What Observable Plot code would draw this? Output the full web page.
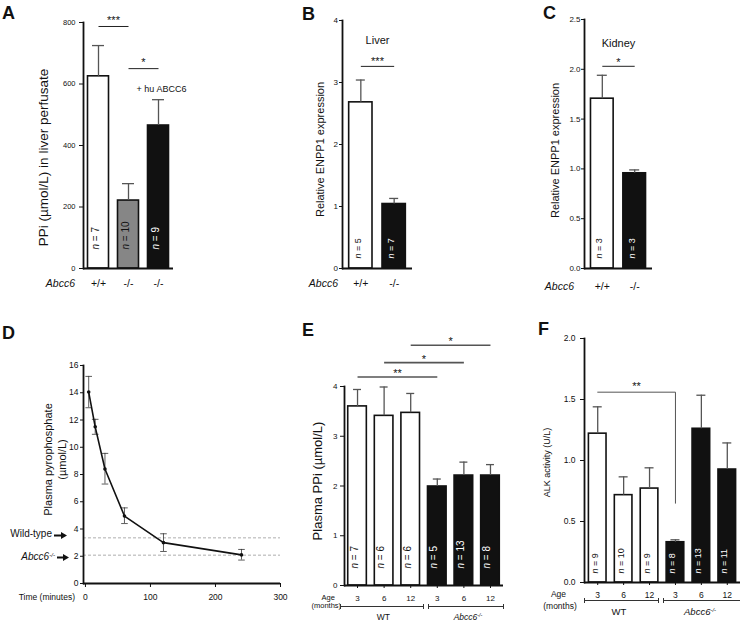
<!DOCTYPE html>
<html><head><meta charset="utf-8">
<script src="https://cdn.jsdelivr.net/npm/d3@7"></script>
<script src="https://cdn.jsdelivr.net/npm/@observablehq/plot@0.6"></script>
<style>
html,body{margin:0;padding:0;background:#fff}
#fig{position:relative;width:740px;height:623px;overflow:hidden;font-family:"Liberation Sans",Arial,sans-serif;color:#111}
.pos{position:absolute}
.lab{position:absolute;white-space:nowrap;line-height:1}
.lab sup{font-size:0.62em;vertical-align:0.5em;line-height:0}
.brk{position:absolute;height:0;border-top:1px solid #333}
.brk::before,.brk::after{content:"";position:absolute;top:-3px;height:5px;border-left:1px solid #333}
.brk::before{left:0}.brk::after{right:-1px}
</style></head><body><div id="fig"></div>
<script>
// ---------- data ----------
// A: PPi in liver perfusate
const aKeys = ["wt", "ko", "koHu"];
const aGenotype = ["+/+", "-/-", "-/-"];
const aPPi = [625, 221, 465];
const aPPiErr = [725, 276, 549];
const aN = [7, 10, 9];
// B: liver ENPP1
const bKeys = ["wt", "ko"];
const bGenotype = ["+/+", "-/-"];
const bENPP1 = [2.68, 1.04];
const bENPP1Err = [3.04, 1.13];
const bN = [5, 7];
// C: kidney ENPP1
const cKeys = ["wt", "ko"];
const cGenotype = ["+/+", "-/-"];
const cENPP1 = [1.705, 0.956];
const cENPP1Err = [1.94, 0.99];
const cN = [3, 3];
// D: plasma pyrophosphate time course
const dTime = [5, 15, 30, 60, 120, 240];
const dPPi = [14.05, 11.5, 8.4, 4.95, 3.0, 2.1];
const dLow = [12.9, 10.95, 7.3, 4.4, 2.35, 1.72];
const dHigh = [15.2, 12.05, 9.55, 5.55, 3.65, 2.5];
const dRefLevels = [3.35, 2.08];
const dYTicks = [0, 2, 4, 6, 8, 10, 12, 14, 16];
const dXTicks = [0, 100, 200, 300];
// E: plasma PPi by age
const eKeys = ["wt3", "wt6", "wt12", "ko3", "ko6", "ko12"];
const eAge = ["3", "6", "12", "3", "6", "12"];
const eGroup = ["WT", "WT", "WT", "Abcc6", "Abcc6", "Abcc6"];
const ePPi = [3.60, 3.41, 3.47, 1.99, 2.21, 2.21];
const ePPiErr = [3.94, 3.99, 3.86, 2.14, 2.48, 2.43];
const eN = [7, 6, 6, 5, 13, 8];
// F: ALK activity by age
const fKeys = ["wt3", "wt6", "wt12", "ko3", "ko6", "ko12"];
const fAge = ["3", "6", "12", "3", "6", "12"];
const fGroup = ["WT", "WT", "WT", "Abcc6", "Abcc6", "Abcc6"];
const fALK = [1.22, 0.716, 0.77, 0.33, 1.26, 0.926];
const fALKErr = [1.44, 0.866, 0.94, 0.35, 1.535, 1.144];
const fN = [9, 10, 9, 8, 13, 11];

// ---------- helpers ----------
const fig = document.getElementById("fig");
const NS = "http://www.w3.org/2000/svg";
const FONT = "'Liberation Sans', Arial, sans-serif";

function place(node, left, top) {
  const d = document.createElement("div");
  d.className = "pos"; d.style.left = left + "px"; d.style.top = top + "px";
  d.append(node); fig.append(d);
}
function label(html, x, y, {size = 10, anchor = "middle", italic = false, bold = false} = {}) {
  const d = document.createElement("div");
  d.className = "lab"; d.innerHTML = html;
  d.style.left = x + "px"; d.style.top = y + "px"; d.style.fontSize = size + "px";
  const tx = anchor === "middle" ? "-50%" : anchor === "end" ? "-100%" : "0";
  d.style.transform = `translate(${tx},-50%)`;
  if (italic) d.style.fontStyle = "italic";
  if (bold) d.style.fontWeight = "bold";
  fig.append(d);
}
function bracket(x1, x2, y) {
  const d = document.createElement("div");
  d.className = "brk"; d.style.left = x1 + "px"; d.style.top = y + "px"; d.style.width = (x2 - x1) + "px";
  fig.append(d);
}
function arrow(x1, x2, y) {
  const w = x2 - x1;
  const s = document.createElementNS(NS, "svg");
  s.setAttribute("width", w); s.setAttribute("height", 7);
  s.style.position = "absolute"; s.style.left = x1 + "px"; s.style.top = (y - 3.5) + "px";
  s.innerHTML = `<path d="M0,3.5H${w - 5}" stroke="#111" stroke-width="2"/><path d="M${w - 6},0L${w},3.5L${w - 6},7Z" fill="#111"/>`;
  fig.append(s);
}
function rich(svg) {
  svg.querySelectorAll("text").forEach(t => {
    if (t.querySelector("tspan")) return;
    const s = t.textContent;
    const m = s.match(/^n = (.*)$/);
    if (m) {
      t.textContent = "";
      const it = document.createElementNS(NS, "tspan");
      it.setAttribute("font-style", "italic"); it.textContent = "n";
      t.append(it, " = " + m[1]);
    }
  });
}

function barPanel(o) {
  const rows = o.keys.map((k, i) => ({k, label: o.labels[i], group: o.groups[i], v: o.values[i], e: o.errs[i], n: o.ns[i]}));
  const labelOf = new Map(rows.map(d => [d.k, d.label]));
  const fw = o.width - o.ml - o.mr;
  const step = fw / (o.keys.length - o.padIn + 2 * o.padOut);
  const bw = step * (1 - o.padIn);
  const sig = (o.sig || []).map(s => ({x1: o.keys[s.from], x2: o.keys[s.to], y: s.y, label: s.label, mid: o.keys[(s.from + s.to - 1) / 2]}));
  const marks = [
    Plot.barY(rows, {x: "k", y: "v", fill: "group", stroke: "#111", strokeWidth: 1.6}),
    Plot.ruleX(rows, {x: "k", y1: "v", y2: "e", stroke: "#555", strokeWidth: 1.3}),
    Plot.tickY(rows, {x: "k", y: "e", stroke: "#555", strokeWidth: 1.3, insetLeft: (bw - o.cap) / 2, insetRight: (bw - o.cap) / 2}),
    Plot.text(rows, {filter: d => o.dark.includes(d.group), x: "k", text: d => "n = " + d.n, rotate: -90, frameAnchor: "bottom", textAnchor: "start", dy: -o.nOffset, fill: "white", fontSize: o.nSize}),
    Plot.text(rows, {filter: d => !o.dark.includes(d.group), x: "k", text: d => "n = " + d.n, rotate: -90, frameAnchor: "bottom", textAnchor: "start", dy: -o.nOffset, fill: "#111", fontSize: o.nSize}),
    Plot.frame({anchor: "left", strokeWidth: 1.8, stroke: "#111"}),
    Plot.ruleY([0], {strokeWidth: 1.8, stroke: "#111"}),
    Plot.axisY({ticks: o.yTicks, tickFormat: o.yFormat, tickSize: o.yTickSize, tickPadding: o.yTickPad, fontSize: o.yFont, label: null}),
    Plot.axisX({tickFormat: k => labelOf.get(k), tickSize: o.xTickSize, tickPadding: o.xTickPad, fontSize: o.xFont, label: null}),
    Plot.text([o.ylabel], {text: d => d, frameAnchor: "left", textAnchor: "middle", rotate: -90, dx: o.ylDx, dy: o.ylDy, fontSize: o.ylSize}),
    Plot.text(sig, {x: "mid", y: "y", text: "label", dx: step / 2, dy: o.starDy, lineAnchor: "bottom", fontSize: 11})
  ];
  if (o.drop == null) {
    marks.push(Plot.link(sig, {x1: "x1", x2: "x2", y1: "y", y2: "y", stroke: o.sigColor, strokeWidth: o.sigWidth}));
  } else {
    sig.forEach(s => marks.push(Plot.line([{x: s.x1, y: s.y}, {x: s.x2, y: s.y}, {x: s.x2, y: o.drop}], {x: "x", y: "y", stroke: o.sigColor, strokeWidth: o.sigWidth})));
  }
  if (o.notes) o.notes.forEach(n => marks.push(Plot.text([n.text], {text: d => d, x: () => n.x, y: () => n.y, dx: n.dx === "mid" ? step / 2 : (n.dx || 0), fontSize: n.size})));
  const svg = Plot.plot({
    width: o.width, height: o.height,
    marginLeft: o.ml, marginRight: o.mr, marginTop: o.mt, marginBottom: o.mb,
    x: {type: "band", domain: o.keys, paddingInner: o.padIn, paddingOuter: o.padOut, round: false},
    y: {domain: o.yDomain},
    color: {type: "ordinal", domain: o.groupDomain, range: o.groupColors},
    style: {fontFamily: FONT, color: "#111", background: "transparent", overflow: "visible"},
    marks
  });
  rich(svg);
  place(svg, o.left, o.top);
}

// ---------- Panel A ----------
barPanel({
  keys: aKeys, labels: aGenotype, groups: aKeys, values: aPPi, errs: aPPiErr, ns: aN,
  groupDomain: aKeys, groupColors: ["#fff", "#868686", "#111"], dark: ["koHu"],
  left: 0, top: 0, width: 240, height: 300, ml: 83, mr: 67, mt: 22, mb: 32,
  padIn: 0.3, padOut: 0.15, yDomain: [0, 800], yTicks: [0, 200, 400, 600, 800], yFormat: d3.format("d"),
  yTickSize: 4, yTickPad: 4, yFont: 7.5, xTickSize: 0, xTickPad: 11, xFont: 10.5,
  ylabel: "PPi (µmol/L) in liver perfusate", ylSize: 13.5, ylDx: -40, ylDy: 12,
  cap: 12, nOffset: 19, nSize: 10,
  sig: [{from: 0, to: 1, y: 787, label: "***"}, {from: 1, to: 2, y: 650, label: "*"}],
  sigColor: "#222", sigWidth: 1, starDy: -2.5,
  notes: [{text: "+ hu ABCC6", x: "koHu", y: 585, dx: 3, size: 9}]
});
// ---------- Panel B ----------
barPanel({
  keys: bKeys, labels: bGenotype, groups: bKeys, values: bENPP1, errs: bENPP1Err, ns: bN,
  groupDomain: bKeys, groupColors: ["#fff", "#111"], dark: ["ko"],
  left: 250, top: 0, width: 240, height: 300, ml: 92, mr: 78, mt: 20, mb: 32,
  padIn: 0.3, padOut: 0.2, yDomain: [0, 4], yTicks: [0, 1, 2, 3, 4], yFormat: d3.format("d"),
  yTickSize: 3, yTickPad: 1.5, yFont: 8, xTickSize: 0, xTickPad: 11.5, xFont: 10.5,
  ylabel: "Relative ENPP1 expression", ylSize: 11, ylDx: -22, ylDy: 5,
  cap: 9, nOffset: 10, nSize: 9,
  sig: [{from: 0, to: 1, y: 3.26, label: "***"}], sigColor: "#222", sigWidth: 1, starDy: -1,
  notes: [{text: "Liver", x: "wt", y: 3.67, dx: "mid", size: 11}]
});
// ---------- Panel C ----------
barPanel({
  keys: cKeys, labels: cGenotype, groups: cKeys, values: cENPP1, errs: cENPP1Err, ns: cN,
  groupDomain: cKeys, groupColors: ["#fff", "#111"], dark: ["ko"],
  left: 490, top: 0, width: 250, height: 300, ml: 94, mr: 88, mt: 19, mb: 32,
  padIn: 0.3, padOut: 0.2, yDomain: [0, 2.5], yTicks: [0, 0.5, 1, 1.5, 2, 2.5], yFormat: d3.format(".1f"),
  yTickSize: 3, yTickPad: 1, yFont: 8, xTickSize: 0, xTickPad: 14.5, xFont: 10.5,
  ylabel: "Relative ENPP1 expression", ylSize: 11, ylDx: -29, ylDy: 6.5,
  cap: 10, nOffset: 10, nSize: 9,
  sig: [{from: 0, to: 1, y: 2.03, label: "*"}], sigColor: "#222", sigWidth: 1, starDy: -0.5,
  notes: [{text: "Kidney", x: "wt", y: 2.26, dx: "mid", size: 11}]
});
// ---------- Panel E ----------
barPanel({
  keys: eKeys, labels: eAge, groups: eGroup, values: ePPi, errs: ePPiErr, ns: eN,
  groupDomain: ["WT", "Abcc6"], groupColors: ["#fff", "#111"], dark: ["Abcc6"],
  left: 290, top: 310, width: 220, height: 313, ml: 54, mr: 7, mt: 76, mb: 38,
  padIn: 0.3, padOut: 0.14, yDomain: [0, 4], yTicks: [0, 1, 2, 3, 4], yFormat: d3.format("d"),
  yTickSize: 4, yTickPad: 3, yFont: 8, xTickSize: 3, xTickPad: 7, xFont: 8,
  ylabel: "Plasma PPi (µmol/L)", ylSize: 13, ylDx: -27, ylDy: -5,
  cap: 8, nOffset: 17, nSize: 10,
  sig: [{from: 0, to: 3, y: 4.19, label: "**"}, {from: 1, to: 4, y: 4.48, label: "*"}, {from: 2, to: 5, y: 4.83, label: "*"}],
  sigColor: "#555", sigWidth: 1.6, starDy: 0
});
// ---------- Panel F ----------
barPanel({
  keys: fKeys, labels: fAge, groups: fGroup, values: fALK, errs: fALKErr, ns: fN,
  groupDomain: ["WT", "Abcc6"], groupColors: ["#fff", "#111"], dark: ["Abcc6"],
  left: 510, top: 310, width: 230, height: 313, ml: 74, mr: 0, mt: 28, mb: 41,
  padIn: 0.32, padOut: 0.17, yDomain: [0, 2], yTicks: [0, 0.5, 1, 1.5, 2], yFormat: d3.format(".1f"),
  yTickSize: 4, yTickPad: 5, yFont: 8.5, xTickSize: 3, xTickPad: 6, xFont: 8.5,
  ylabel: "ALK activity (U/L)", ylSize: 9, ylDx: -37, ylDy: 2,
  cap: 9, nOffset: 9, nSize: 9,
  sig: [{from: 0, to: 3, y: 1.56, label: "**"}], drop: 0.65, sigColor: "#555", sigWidth: 1, starDy: -2.3
});

// ---------- Panel D ----------
{
  const rows = dTime.map((t, i) => ({t, v: dPPi[i], lo: dLow[i], hi: dHigh[i]}));
  const capSym = {draw(ctx, size) { const r = Math.sqrt(size / Math.PI); ctx.moveTo(-r, 0); ctx.lineTo(r, 0); }};
  const svg = Plot.plot({
    width: 300, height: 313, marginLeft: 83, marginRight: 20, marginTop: 55, marginBottom: 40,
    x: {domain: [-3, 300]}, y: {domain: [0, 16]},
    style: {fontFamily: FONT, color: "#111", background: "transparent", overflow: "visible"},
    marks: [
      Plot.ruleY(dRefLevels, {stroke: "#999", strokeDasharray: "3,2", strokeWidth: 0.8}),
      Plot.ruleX(rows, {x: "t", y1: "lo", y2: "hi", stroke: "#333", strokeWidth: 0.8}),
      Plot.dot(rows, {x: "t", y: "lo", symbol: capSym, r: 3.3, stroke: "#333", fill: "none", strokeWidth: 0.8}),
      Plot.dot(rows, {x: "t", y: "hi", symbol: capSym, r: 3.3, stroke: "#333", fill: "none", strokeWidth: 0.8}),
      Plot.line(rows, {x: "t", y: "v", stroke: "#111", strokeWidth: 1.6}),
      Plot.dot(rows, {x: "t", y: "v", r: 1.8, fill: "#111"}),
      Plot.frame({anchor: "left", strokeWidth: 1.8, stroke: "#111"}),
      Plot.ruleY([0], {strokeWidth: 1.8, stroke: "#111"}),
      Plot.axisY({ticks: dYTicks, tickSize: 3, tickPadding: 2, fontSize: 8.5, label: null}),
      Plot.axisX({ticks: dXTicks, tickSize: 4, tickPadding: 6, fontSize: 8.5, label: null}),
      Plot.text(["Plasma pyrophosphate\n(µmol/L)"], {text: d => d, frameAnchor: "left", textAnchor: "middle", rotate: -90, dx: -29, dy: -15, fontSize: 11, lineHeight: 1.3})
    ]
  });
  place(svg, 0, 310);
}

// ---------- HTML annotations ----------
label("A", 2, 13, {size: 18, anchor: "start", bold: true});
label("B", 302, 13.5, {size: 18, anchor: "start", bold: true});
label("C", 543, 13, {size: 18, anchor: "start", bold: true});
label("D", 2, 333, {size: 18, anchor: "start", bold: true});
label("E", 302, 329.5, {size: 18, anchor: "start", bold: true});
label("F", 538, 329, {size: 18, anchor: "start", bold: true});

label("Abcc6", 75, 283, {size: 10.5, anchor: "end", italic: true});
label("Abcc6", 338, 283.3, {size: 10.5, anchor: "end", italic: true});
label("Abcc6", 574, 286, {size: 10.5, anchor: "end", italic: true});

label("Time (minutes)", 75, 597.3, {size: 8.5, anchor: "end"});
label("Wild-type", 52, 534, {size: 10, anchor: "end"});
arrow(54, 67, 535);
label("Abcc6<sup>-/-</sup>", 55, 557, {size: 10, anchor: "end", italic: true});
arrow(57, 69, 557);

label("Age", 328.3, 597.7, {size: 7.5});
label("(months)", 326.3, 606, {size: 7.5});
bracket(340, 423.3, 606);
bracket(428.3, 503.3, 606);
label("WT", 383.3, 617.3, {size: 8.5});
label("Abcc6<sup>-/-</sup>", 468, 617.3, {size: 8.5, italic: true});

label("Age", 558.5, 594.3, {size: 8.5});
label("(months)", 560, 605.7, {size: 8.5});
bracket(584, 658.3, 600);
bracket(663.3, 741, 600);
label("WT", 619, 611.7, {size: 9.5});
label("Abcc6<sup>-/-</sup>", 700, 611.7, {size: 9.5, italic: true});
</script></body></html>
